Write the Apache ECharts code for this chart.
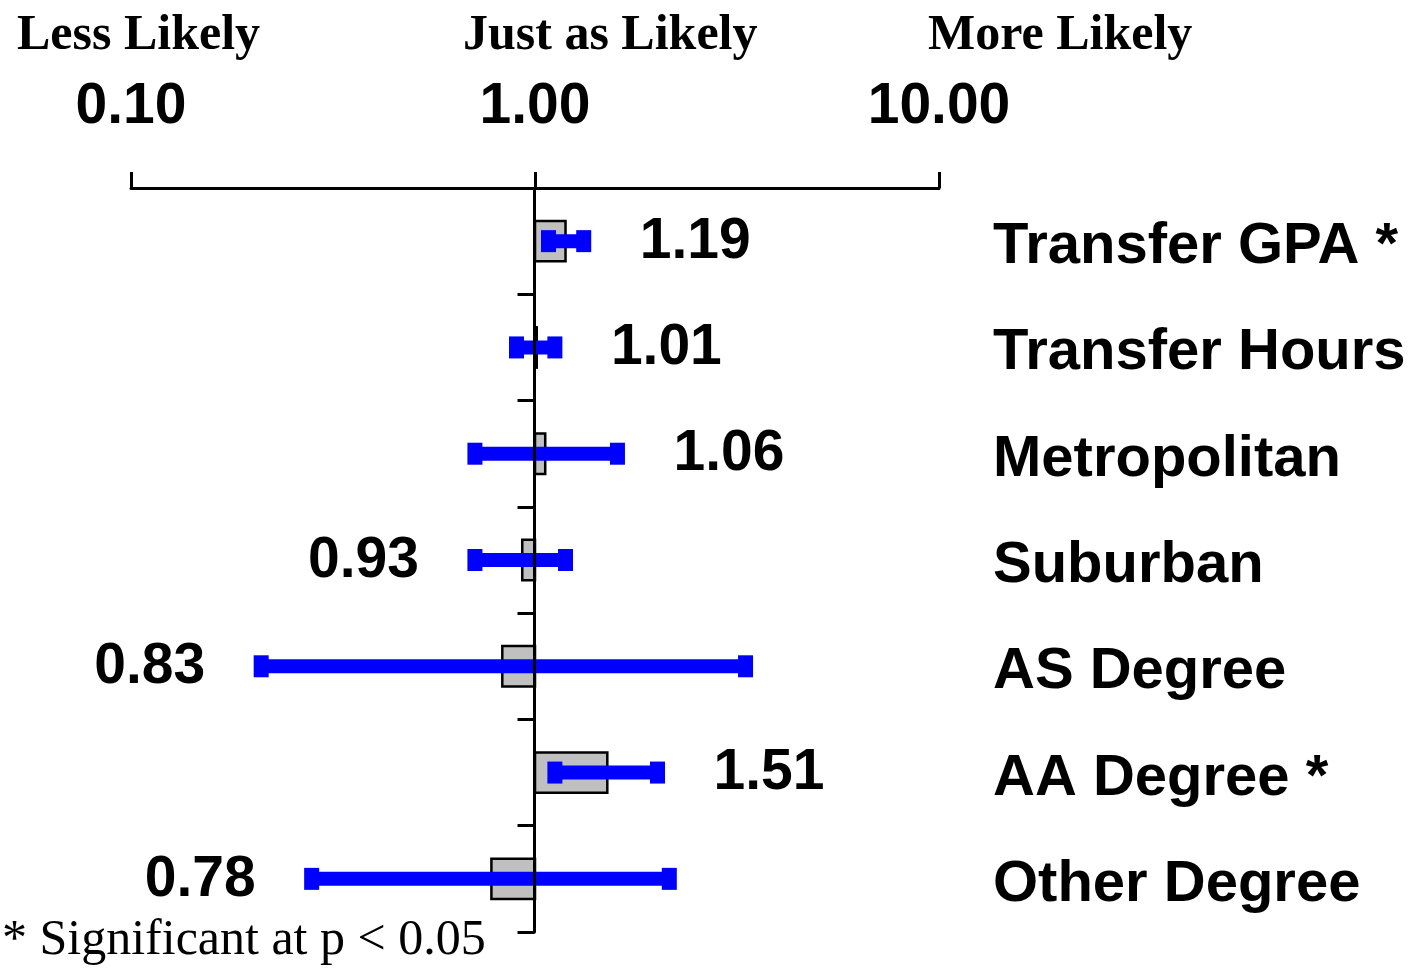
<!DOCTYPE html>
<html>
<head>
<meta charset="utf-8">
<title>Odds ratios</title>
<script src="https://cdn.jsdelivr.net/npm/echarts@6/dist/echarts.min.js"></script>
<style>
  html, body { margin: 0; padding: 0; background: #ffffff; }
  #chart { width: 1416px; height: 973px; }
</style>
</head>
<body>
<div id="chart"></div>
<script>
// Predictors, listed top to bottom
const categories = ['Transfer GPA *', 'Transfer Hours', 'Metropolitan', 'Suburban', 'AS Degree', 'AA Degree *', 'Other Degree'];
// Odds ratio estimates
const oddsRatios = [1.19, 1.01, 1.06, 0.93, 0.83, 1.51, 0.78];
// 95% confidence interval bounds
const ciLower = [1.08, 0.90, 0.71, 0.71, 0.21, 1.12, 0.28];
const ciUpper = [1.32, 1.12, 1.60, 1.19, 3.32, 2.01, 2.15];
// Ticks on the odds-ratio scale
const tickValues = [0.1, 1, 10];
// Headings above the scale
const headings = ['Less Likely', 'Just as Likely', 'More Likely'];
const footnote = '* Significant at p < 0.05';

const rows = categories.map((c, i) => [oddsRatios[i], i, ciLower[i], ciUpper[i]]);

const chart = echarts.init(document.getElementById('chart'), null, { renderer: 'canvas' });

const SANS = '"Liberation Sans", Arial, sans-serif';
const SERIF = '"Liberation Serif", "Times New Roman", serif';
const BLUE = '#0000ff';

function bandHeight(api) {
  return Math.abs(api.coord([1, 1])[1] - api.coord([1, 0])[1]);
}

const option = {
  backgroundColor: '#ffffff',
  animation: false,
  grid: { left: 131, right: 477, top: 188, bottom: 41, containLabel: false },
  xAxis: {
    type: 'log',
    logBase: 10,
    min: tickValues[0],
    max: tickValues[tickValues.length - 1],
    position: 'top',
    axisLine: { show: true, lineStyle: { color: '#000', width: 3 } },
    axisTick: { show: true, inside: false, length: 16, lineStyle: { color: '#000', width: 3 } },
    minorTick: { show: false },
    splitLine: { show: false },
    axisLabel: {
      margin: 52,
      color: '#000',
      fontFamily: SANS,
      fontWeight: 'bold',
      fontSize: 57,
      formatter: v => Number(v).toFixed(2)
    }
  },
  yAxis: [
    {
      // axis line drawn through an odds ratio of 1
      type: 'category',
      data: categories,
      inverse: true,
      position: 'left',
      offset: -403.5,
      z: 10,
      boundaryGap: true,
      axisLine: { show: true, lineStyle: { color: '#000', width: 3 } },
      axisTick: { show: true, inside: false, length: 17, lineStyle: { color: '#000', width: 3 } },
      axisLabel: { show: false },
      splitLine: { show: false }
    },
    {
      // row names on the right
      type: 'category',
      data: categories,
      inverse: true,
      position: 'right',
      axisLine: { show: false },
      axisTick: { show: false },
      splitLine: { show: false },
      axisLabel: {
        margin: 54,
        align: 'left',
        color: '#000',
        fontFamily: SANS,
        fontWeight: 'bold',
        fontSize: 58,
        formatter: v => '{name|' + v + '}',
        rich: {
          name: {
            color: '#000',
            fontFamily: SANS,
            fontWeight: 'bold',
            fontSize: 58,
            padding: [12, 0, 0, 0]
          }
        }
      }
    }
  ],
  series: [
    {
      // grey bars from 1 to the estimate
      type: 'custom',
      yAxisIndex: 0,
      z: 2,
      data: rows,
      encode: { x: [0, 2, 3], y: 1 },
      renderItem(params, api) {
        const est = api.value(0);
        const idx = api.value(1);
        const p0 = api.coord([1, idx]);
        const p1 = api.coord([est, idx]);
        const h = bandHeight(api) * 0.38;
        const x = Math.min(p0[0], p1[0]);
        const w = Math.abs(p1[0] - p0[0]);
        return {
          type: 'rect',
          shape: { x: x, y: p0[1] - h / 2, width: w, height: h },
          style: { fill: '#c0c0c0', stroke: '#000', lineWidth: 2.5 }
        };
      }
    },
    {
      // confidence intervals and value labels
      type: 'custom',
      yAxisIndex: 0,
      z: 3,
      data: rows,
      encode: { x: [0, 2, 3], y: 1 },
      renderItem(params, api) {
        const est = api.value(0);
        const idx = api.value(1);
        const lo = api.coord([api.value(2), idx]);
        const hi = api.coord([api.value(3), idx]);
        const cy = lo[1];
        const lineH = 14, capW = 15, capH = 22, gap = 56;
        const children = [
          { type: 'rect', shape: { x: lo[0], y: cy - lineH / 2, width: hi[0] - lo[0], height: lineH }, style: { fill: BLUE } },
          { type: 'rect', shape: { x: lo[0] - capW / 2, y: cy - capH / 2, width: capW, height: capH }, style: { fill: BLUE } },
          { type: 'rect', shape: { x: hi[0] - capW / 2, y: cy - capH / 2, width: capW, height: capH }, style: { fill: BLUE } }
        ];
        const right = est >= 1;
        children.push({
          type: 'text',
          style: {
            text: est.toFixed(2),
            x: right ? hi[0] + gap : lo[0] - gap,
            y: cy + 1,
            align: right ? 'left' : 'right',
            verticalAlign: 'middle',
            fill: '#000',
            font: 'bold 57px ' + SANS
          }
        });
        return { type: 'group', children: children };
      }
    }
  ],
  graphic: [
    { type: 'text', left: 17, top: 11, style: { text: headings[0], fill: '#000', font: 'bold 50px ' + SERIF } },
    { type: 'text', left: 463, top: 11, style: { text: headings[1], fill: '#000', font: 'bold 50px ' + SERIF } },
    { type: 'text', left: 928, top: 11, style: { text: headings[2], fill: '#000', font: 'bold 50px ' + SERIF } },
    { type: 'text', left: 2, top: 916, style: { text: footnote, fill: '#000', font: '50px ' + SERIF } }
  ]
};

chart.setOption(option);
</script>
</body>
</html>
